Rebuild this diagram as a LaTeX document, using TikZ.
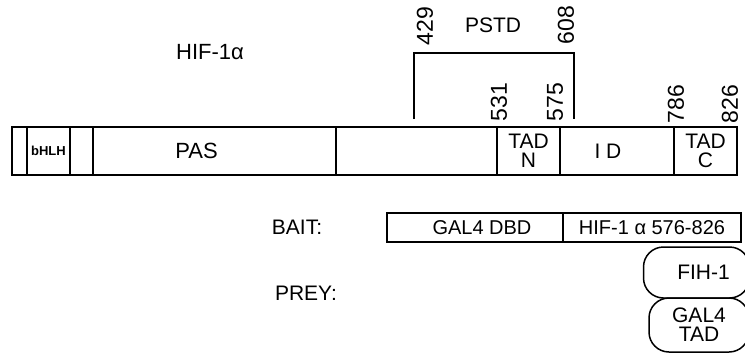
\documentclass[tikz,border=0pt]{standalone}
\usepackage{fontspec}
\setmainfont{Liberation Sans}
\usetikzlibrary{positioning}

\begin{document}
\begin{tikzpicture}[
  x=0.5pt, y=-0.5pt,
  seg/.style={draw, line width=0.9pt, minimum height=24pt, inner sep=0pt, outer sep=0pt,
    align=center, font=\fontsize{10.5}{9.5}\selectfont},
  num/.style={rotate=90, inner sep=0pt, font=\fontsize{11.5}{12}\selectfont},
  lbl/.style={inner sep=0pt, font=\fontsize{10.5}{11}\selectfont},
  bait/.style={draw, line width=0.75pt, minimum height=14.5pt, inner sep=0pt, outer sep=0pt,
    font=\fontsize{10}{11}\selectfont},
  prey/.style={draw, line width=0.75pt, rounded corners=10pt, inner sep=0pt, outer sep=0pt,
    align=center, font=\fontsize{10.5}{9.5}\selectfont},
  brk/.style={line width=0.7pt}
]
  \useasboundingbox (0,0) rectangle (745,354);

  % HIF-1alpha domain bar
  \node[seg, minimum width=7.5pt, anchor=west] (s1) at (12,151) {};
  \node[seg, minimum width=21.5pt, right=0pt of s1, font=\bfseries\fontsize{6.5}{7}\selectfont] (bhlh) {bHLH};
  \node[seg, minimum width=11.5pt, right=0pt of bhlh] (s3) {};
  \node[seg, minimum width=121.5pt, right=0pt of s3, font=\fontsize{11}{11}\selectfont] (pas) {PAS\hspace*{18pt}};
  \node[seg, minimum width=80.5pt, right=0pt of pas] (s5) {};
  \node[seg, minimum width=31.5pt, right=0pt of s5] (tadn) {TAD\\N};
  \node[seg, minimum width=57pt, right=0pt of tadn] (id) {I D\hspace*{9pt}};
  \node[seg, minimum width=31.5pt, right=0pt of id] (tadc) {TAD\\C};

  \node[lbl, font=\fontsize{11}{11}\selectfont] (hif) at (210,52) {HIF-1α};

  % residue numbers
  \node[num] (n429) at (425,26) {429};
  \node[num] (n608) at (566,25) {608};
  \node[num] (n531) at (499,102) {531};
  \node[num] (n575) at (555,102) {575};
  \node[num] (n786) at (676,104) {786};
  \node[num] (n826) at (730,104) {826};
  \node[lbl] (pstd) at (493,25) {PSTD};

  % PSTD bracket
  \coordinate (b429) at (414,119);
  \coordinate (b608) at (574,119);
  \draw[brk] (b429) -- ++(0,-66) -| (b608);

  % bait
  \node[lbl] (baitlbl) at (297,227) {BAIT:};
  \node[bait, minimum width=88pt, anchor=west] (dbd) at (387,227.5) {\hspace*{7pt}GAL4 DBD};
  \node[bait, minimum width=89pt, right=0pt of dbd] (hifc) {HIF-1 α 576-826};

  % prey
  \node[lbl] (preylbl) at (306,293) {PREY:};
  \node[prey, minimum width=53pt, minimum height=25.5pt] (fih) at (696.5,272.5) {\hspace*{7pt}FIH-1};
  \node[prey, minimum width=50pt, minimum height=27pt] (gtad) at (699,325) {GAL4\\TAD};
\end{tikzpicture}
\end{document}
